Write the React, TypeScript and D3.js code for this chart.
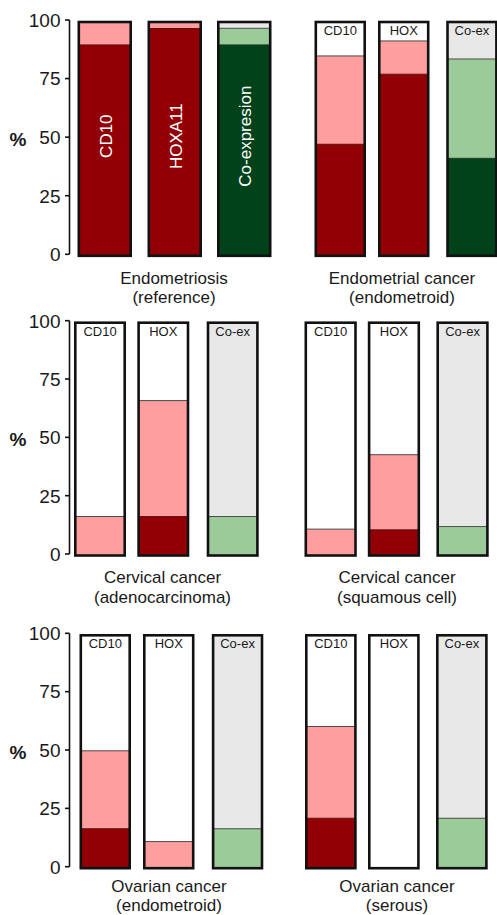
import React from "react";
import * as d3 from "d3";

// ---- data ----
const markers = ["CD10", "HOX", "Co-ex"];
const referenceLabels = ["CD10", "HOXA11", "Co-expresion"];
const titleLine1 = [
  "Endometriosis",
  "Endometrial cancer",
  "Cervical cancer",
  "Cervical cancer",
  "Ovarian cancer",
  "Ovarian cancer",
];
const titleLine2 = [
  "(reference)",
  "(endometroid)",
  "(adenocarcinoma)",
  "(squamous cell)",
  "(endometroid)",
  "(serous)",
];
// strong (dark) share per marker [CD10, HOX, Co-ex]
const strongPct = [
  [90, 97, 90],
  [47.6, 77.5, 41.6],
  [0, 16.7, 0],
  [0, 11, 0],
  [16.9, 0, 0],
  [21.4, 0, 0],
];
// moderate (light) share stacked on top of strong
const moderatePct = [
  [10, 3, 7.1],
  [37.7, 14.2, 42.4],
  [16.7, 49.7, 16.7],
  [11.3, 32.2, 12.4],
  [33.4, 11.4, 16.9],
  [39.3, 0, 21.4],
];
const yTicks = [0, 25, 50, 75, 100];

// ---- layout / style ----
const W = 497;
const H = 915;
const rows = [
  { top: 20, bottom: 254.3, t1: 283.5, t2: 303 },
  { top: 320.7, bottom: 554, t1: 583, t2: 602.5 },
  { top: 633.3, bottom: 866.7, t1: 891.5, t2: 911 },
];
const panelLayout = [
  { left: 77.5, w: 54.5, g1: 15.5, g2: 15, tx: 174 },
  { left: 314.5, w: 51.5, g1: 12, g2: 16.7, tx: 402 },
  { left: 74, w: 52, g1: 11.3, g2: 17.4, tx: 162.5 },
  { left: 304.5, w: 52.3, g1: 11, g2: 16.3, tx: 397 },
  { left: 79.5, w: 51.5, g1: 12, g2: 17.3, tx: 169 },
  { left: 305, w: 51.7, g1: 11.3, g2: 16.3, tx: 397 },
];
const axisX = 69.5;
const FONT = "'Liberation Sans', Arial, sans-serif";
const COL = {
  darkRed: "#920005",
  pink: "#FF9E9E",
  darkGreen: "#01421A",
  lightGreen: "#9BCB98",
  grey: "#E8E8E8",
  white: "#FFFFFF",
  stroke: "#111111",
  text: "#1a1a1a",
};
const SW = 2.6;

function Panel({ i }: { i: number }) {
  const row = rows[Math.floor(i / 2)];
  const lay = panelLayout[i];
  const col = i % 2;
  const y = d3.scaleLinear().domain([0, 100]).range([row.bottom, row.top]);
  const x = d3
    .scaleOrdinal<string, number>()
    .domain(markers)
    .range([lay.left, lay.left + lay.w + lay.g1, lay.left + 2 * lay.w + lay.g1 + lay.g2]);

  return (
    <g>
      {col === 0 && (
        <g>
          <line x1={axisX} x2={axisX} y1={y(100)} y2={y(0)} stroke={COL.stroke} strokeWidth={1.6} />
          {yTicks.map((t) => (
            <g key={t}>
              <line x1={axisX - 4.5} x2={axisX} y1={y(t)} y2={y(t)} stroke={COL.stroke} strokeWidth={1.6} />
              <text
                x={60.5}
                y={y(t)}
                dy="0.36em"
                textAnchor="end"
                fontFamily={FONT}
                fontSize={19}
                fill={COL.text}
              >
                {t}
              </text>
            </g>
          ))}
          <text x={9.5} y={y(50) + 2} dy="0.36em" fontFamily={FONT} fontSize={19} fontWeight="bold" fill={COL.text}>
            %
          </text>
        </g>
      )}
      {markers.map((m, j) => {
        const isCo = j === 2;
        const bx = x(m) + SW / 2;
        const bw = lay.w - SW;
        const top = y(100) + 2;
        const bot = y(0) + 1.5;
        const s = strongPct[i][j];
        const mo = moderatePct[i][j];
        const ys = Math.min(bot, y(s) + 1.5);
        const ym = Math.min(bot, y(s + mo) + 1.5);
        const darkC = isCo ? COL.darkGreen : COL.darkRed;
        const lightC = isCo ? COL.lightGreen : COL.pink;
        const bg = isCo ? COL.grey : COL.white;
        const cx = x(m) + lay.w / 2;
        return (
          <g key={m}>
            <rect x={bx} y={top} width={bw} height={bot - top} fill={bg} />
            {mo > 0 && <rect x={bx} y={Math.max(top, ym)} width={bw} height={ys - Math.max(top, ym)} fill={lightC} />}
            {s > 0 && <rect x={bx} y={Math.max(top, ys)} width={bw} height={bot - Math.max(top, ys)} fill={darkC} />}
            {mo > 0 && ym > top + 1 && (
              <line x1={bx} x2={bx + bw} y1={ym} y2={ym} stroke="#4a4a4a" strokeWidth={1} />
            )}
            {s > 0 && mo > 0 && ys > top + 1 && (
              <line x1={bx} x2={bx + bw} y1={ys} y2={ys} stroke={isCo ? "#1e3a22" : "#5a1010"} strokeWidth={1} />
            )}
            <rect x={bx} y={top} width={bw} height={bot - top} fill="none" stroke={COL.stroke} strokeWidth={SW} />
            {i === 0 ? (
              <text
                transform={`translate(${cx + 1},${y(50) - 1}) rotate(-90)`}
                textAnchor="middle"
                dy="0.36em"
                fontFamily={FONT}
                fontSize={17}
                fill="#ffffff"
              >
                {referenceLabels[j]}
              </text>
            ) : (
              <text
                x={cx}
                y={y(100) + 15}
                textAnchor="middle"
                fontFamily={FONT}
                fontSize={13}
                fill={COL.text}
              >
                {m}
              </text>
            )}
          </g>
        );
      })}
      <text x={lay.tx} y={row.t1} textAnchor="middle" fontFamily={FONT} fontSize={17} fill={COL.text}>
        {titleLine1[i]}
      </text>
      <text x={lay.tx} y={row.t2} textAnchor="middle" fontFamily={FONT} fontSize={17} fill={COL.text}>
        {titleLine2[i]}
      </text>
    </g>
  );
}

export default function App() {
  return (
    <svg
      width={W}
      height={H}
      viewBox={`0 0 ${W} ${H}`}
      style={{ position: "absolute", left: 0, top: 0, display: "block", background: "#fff" }}
    >
      <rect x={0} y={0} width={W} height={H} fill="#fff" />
      {titleLine1.map((_, i) => (
        <Panel key={i} i={i} />
      ))}
    </svg>
  );
}
